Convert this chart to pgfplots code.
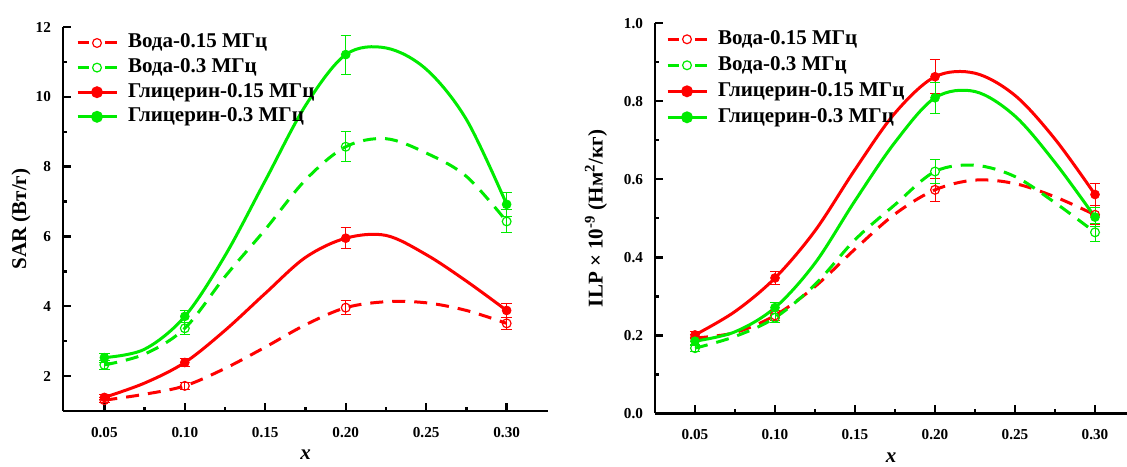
\documentclass[border=0pt]{standalone}
\usepackage{fontspec}
\setmainfont{Liberation Serif}
\usepackage{pgfplots}
\pgfplotsset{compat=1.18}
\definecolor{myred}{RGB}{255,0,0}
\definecolor{mygreen}{RGB}{0,235,0}

\pgfplotsset{
  common/.style={
    scale only axis,
    axis x line*=bottom, axis y line*=left,
    axis line style={line width=1.3pt},
    tick align=inside,
    major tick length=4pt, minor tick length=2pt,
    every tick/.style={black, line width=1.2pt},
    minor x tick num=1, minor y tick num=1,
    xtick={0.05,0.10,0.15,0.20,0.25,0.30},
    xticklabels={0.05,0.10,0.15,0.20,0.25,0.30},
    ticklabel style={font=\fontsize{7.6}{9}\selectfont\bfseries},
    xticklabel style={yshift=-4.5pt},
    yticklabel style={xshift=-2.5pt},
    label style={font=\fontsize{10.5}{12}\selectfont\bfseries},
    xlabel={\textit{x}},
    xlabel style={at={(axis description cs:0.5,0)}, anchor=center, yshift=-22pt},
    legend style={draw=none, fill=none, font=\fontsize{10.5}{12}\selectfont\bfseries,
      inner sep=0pt, outer sep=0pt, row sep=2.3pt, column sep=5pt,
      nodes={inner sep=0pt, text height=7.5pt, text depth=2.5pt}},
    legend cell align=left,
    legend image code/.code={\draw[mark repeat=2,mark phase=2,#1] plot coordinates {(0pt,0pt) (9.75pt,0pt) (19.5pt,0pt)};},
  },
  curve/.style={line width=1.5pt, smooth, tension=0.55, forget plot},
  dcurve/.style={curve, dash pattern=on 6.5pt off 4.5pt},
  pts/.style={only marks, forget plot, mark size=2.2pt,
    error bars/y dir=both, error bars/y explicit,
    error bars/error bar style={line width=0.5pt},
    error bars/error mark options={rotate=90, mark size=2.6pt, line width=0.5pt}},
  opn/.style={mark=o, mark options={line width=0.6pt}},
  fll/.style={mark=*},
  lgd/.style={line width=1.5pt, mark size=2.2pt},
}

\begin{document}
\begin{tikzpicture}
\useasboundingbox (0,0) rectangle (563.5pt,233pt);

% ---------------- Left panel: SAR ----------------
\begin{axis}[common,
  at={(31.5pt,27.5pt)}, anchor=south west,
  width=242.5pt, height=192pt,
  xmin=0.0243, xmax=0.3257, ymin=1, ymax=12,
  ytick={2,4,6,8,10,12},
  yticklabels={2,4,6,8,10,12},
  ylabel={SAR (Вт/г)},
  ylabel style={at={(axis description cs:-0.0866,0.5)}, anchor=center},
  legend style={at={(axis description cs:0,1)}, anchor=north west, xshift=6.5pt, yshift=-3pt},
]
% curves
\addplot[myred, dcurve] coordinates {(0.05,1.31) (0.075,1.48) (0.10,1.72) (0.125,2.22) (0.15,2.83) (0.175,3.47) (0.20,3.96) (0.225,4.13) (0.25,4.10) (0.275,3.88) (0.30,3.51)};
\addplot[mygreen, dcurve] coordinates {(0.05,2.32) (0.075,2.63) (0.10,3.37) (0.125,4.85) (0.15,6.20) (0.175,7.62) (0.20,8.57) (0.225,8.80) (0.25,8.39) (0.275,7.72) (0.30,6.43)};
\addplot[myred, curve] coordinates {(0.05,1.39) (0.075,1.80) (0.10,2.39) (0.125,3.31) (0.15,4.37) (0.175,5.40) (0.20,5.95) (0.225,6.03) (0.25,5.48) (0.275,4.72) (0.30,3.88)};
\addplot[mygreen, curve] coordinates {(0.05,2.53) (0.075,2.77) (0.10,3.71) (0.125,5.45) (0.15,7.60) (0.175,9.75) (0.20,11.21) (0.225,11.40) (0.25,10.79) (0.275,9.35) (0.30,6.92)};
% data points
\addplot[myred, pts, opn] table[x=x, y=y, y error=e] {
x y e
0.05 1.31 0.07
0.10 1.72 0.09
0.20 3.96 0.20
0.30 3.51 0.17
};
\addplot[mygreen, pts, opn] table[x=x, y=y, y error=e] {
x y e
0.05 2.32 0.12
0.10 3.37 0.17
0.20 8.57 0.43
0.30 6.43 0.33
};
\addplot[myred, pts, fll] table[x=x, y=y, y error=e] {
x y e
0.05 1.39 0.07
0.10 2.39 0.12
0.20 5.95 0.30
0.30 3.88 0.19
};
\addplot[mygreen, pts, fll] table[x=x, y=y, y error=e] {
x y e
0.05 2.53 0.13
0.10 3.71 0.18
0.20 11.21 0.56
0.30 6.92 0.35
};
\addlegendimage{myred, lgd, dash pattern=on 5.7pt off 8.1pt, mark=o, mark options={solid, line width=0.6pt}}
\addlegendentry{Вода-0.15 МГц}
\addlegendimage{mygreen, lgd, dash pattern=on 5.7pt off 8.1pt, mark=o, mark options={solid, line width=0.6pt}}
\addlegendentry{Вода-0.3 МГц}
\addlegendimage{myred, lgd, mark=*}
\addlegendentry{Глицерин-0.15 МГц}
\addlegendimage{mygreen, lgd, mark=*}
\addlegendentry{Глицерин-0.3 МГц}
\end{axis}

% ---------------- Right panel: ILP ----------------
\begin{axis}[common,
  at={(327.5pt,26.35pt)}, anchor=south west,
  width=236pt, height=195pt,
  xmin=0.025, xmax=0.32, ymin=0, ymax=1,
  ytick={0,0.2,0.4,0.6,0.8,1.0},
  yticklabels={0.0,0.2,0.4,0.6,0.8,1.0},
  ylabel={ILP × 10\textsuperscript{-9} (Нм\textsuperscript{2}/кг)},
  ylabel style={at={(axis description cs:-0.125,0.5)}, anchor=center},
  legend style={at={(axis description cs:0,1)}, anchor=north west, xshift=5.5pt, yshift=-3pt, row sep=3pt},
]
\addplot[myred, dcurve] coordinates {(0.05,0.193) (0.075,0.207) (0.10,0.251) (0.125,0.325) (0.15,0.421) (0.175,0.511) (0.20,0.573) (0.225,0.598) (0.25,0.589) (0.275,0.555) (0.30,0.509)};
\addplot[mygreen, dcurve] coordinates {(0.05,0.167) (0.075,0.197) (0.10,0.245) (0.125,0.330) (0.15,0.445) (0.175,0.535) (0.20,0.620) (0.225,0.636) (0.25,0.607) (0.275,0.540) (0.30,0.464)};
\addplot[myred, curve] coordinates {(0.05,0.201) (0.075,0.261) (0.10,0.347) (0.125,0.468) (0.15,0.625) (0.175,0.770) (0.20,0.863) (0.225,0.872) (0.25,0.815) (0.275,0.703) (0.30,0.561)};
\addplot[mygreen, curve] coordinates {(0.05,0.185) (0.075,0.209) (0.10,0.271) (0.125,0.385) (0.15,0.545) (0.175,0.695) (0.20,0.809) (0.225,0.825) (0.25,0.762) (0.275,0.643) (0.30,0.503)};
\addplot[myred, pts, opn] table[x=x, y=y, y error=e] {
x y e
0.05 0.193 0.010
0.10 0.251 0.013
0.20 0.573 0.029
0.30 0.509 0.025
};
\addplot[mygreen, pts, opn] table[x=x, y=y, y error=e] {
x y e
0.05 0.167 0.008
0.10 0.245 0.012
0.20 0.620 0.031
0.30 0.464 0.023
};
\addplot[myred, pts, fll] table[x=x, y=y, y error=e] {
x y e
0.05 0.201 0.010
0.10 0.347 0.017
0.20 0.863 0.043
0.30 0.561 0.028
};
\addplot[mygreen, pts, fll] table[x=x, y=y, y error=e] {
x y e
0.05 0.185 0.009
0.10 0.271 0.014
0.20 0.809 0.040
0.30 0.503 0.025
};
\addlegendimage{myred, lgd, dash pattern=on 5.7pt off 8.1pt, mark=o, mark options={solid, line width=0.6pt}}
\addlegendentry{Вода-0.15 МГц}
\addlegendimage{mygreen, lgd, dash pattern=on 5.7pt off 8.1pt, mark=o, mark options={solid, line width=0.6pt}}
\addlegendentry{Вода-0.3 МГц}
\addlegendimage{myred, lgd, mark=*}
\addlegendentry{Глицерин-0.15 МГц}
\addlegendimage{mygreen, lgd, mark=*}
\addlegendentry{Глицерин-0.3 МГц}
\end{axis}
\end{tikzpicture}
\end{document}
